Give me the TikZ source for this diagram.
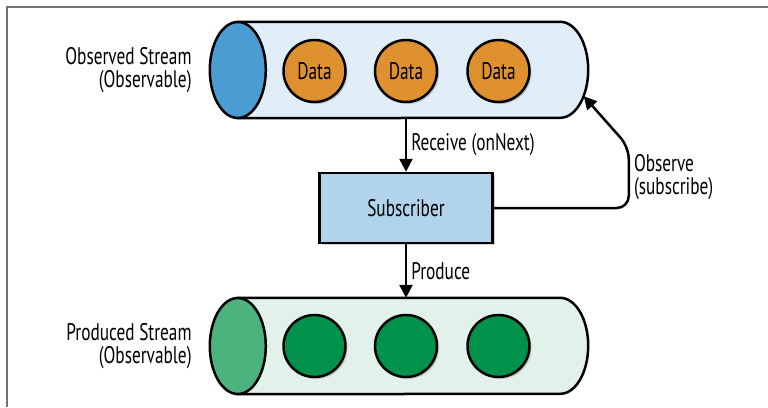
\documentclass[tikz,border=0pt]{standalone}
\usepackage{fontspec}
\setmainfont[FakeStretch=0.72]{PT Sans}
\usetikzlibrary{positioning,shadows,arrows.meta}

\definecolor{obsbody}{HTML}{E1EEF7}
\definecolor{obsend}{HTML}{4B9CD1}
\definecolor{dataorange}{HTML}{E0912F}
\definecolor{subfill}{HTML}{B2D4EA}
\definecolor{prodbody}{HTML}{E2F2EA}
\definecolor{prodend}{HTML}{4DB37E}
\definecolor{prodgreen}{HTML}{00924A}

\begin{document}
\begin{tikzpicture}[x=1pt,y=-1pt,
					>={Triangle[length=13pt,width=13pt]},
					font=\fontsize{24}{23}\selectfont,
					stream/.style={rectangle,inner sep=0pt,minimum width=322pt,minimum height=96pt},
					data node/.style={circle,draw,line width=2.5pt,minimum size=62pt,inner sep=0pt,
						drop shadow={opacity=0.35,shadow xshift=2pt,shadow yshift=-2pt}},
					sub node/.style={rectangle,draw,line width=2.5pt,fill=subfill,
						minimum width=173pt,minimum height=70pt,
						drop shadow={opacity=0.35,shadow xshift=2pt,shadow yshift=-2pt}},
					tube/.style={draw,line width=2.5pt},
					flow/.style={->,line width=2.5pt},
					side label/.style={align=right,inner sep=0pt}]

  \useasboundingbox (0,0) rectangle (768,407);
  \draw[black!55,line width=1.2pt] (7,407) -- (7,7) -- (768,7);

  % observed stream
  \node[stream] (obs) at (399,70) {};
  \path[tube,fill=obsbody] (obs.north west) -- (obs.north east)
    arc[start angle=90,end angle=-90,x radius=28pt,y radius=48pt] -- (obs.south west) -- cycle;
  \path[tube,fill=obsend] (obs.west) ellipse[x radius=28pt,y radius=48pt];
  \coordinate (obstip) at ([shift={(-33:28pt and 48pt)}]obs.east);
  \node[data node,fill=dataorange] (d2) at (406,71) {Data};
  \node[data node,fill=dataorange,left=27pt of d2] (d1) {Data};
  \node[data node,fill=dataorange,right=28pt of d2] (d3) {Data};
  \node[side label,left=46pt of obs.west] (obslabel) {Observed Stream\\(Observable)};

  \node[sub node] (sub) at (406,208) {Subscriber};

  % produced stream
  \node[stream] (prod) at (399,346) {};
  \path[tube,fill=prodbody] (prod.north west) -- (prod.north east)
    arc[start angle=90,end angle=-90,x radius=28pt,y radius=48pt] -- (prod.south west) -- cycle;
  \path[tube,fill=prodend] (prod.west) ellipse[x radius=28pt,y radius=48pt];
  \node[data node,fill=prodgreen] (p2) at (406,346) {};
  \node[data node,fill=prodgreen,left=27pt of p2] (p1) {};
  \node[data node,fill=prodgreen,right=28pt of p2] (p3) {};
  \node[side label,left=46pt of prod.west] (prodlabel) {Produced Stream\\(Observable)};

  \draw[flow] (sub.north |- obs.south) -- node[right=4pt,inner sep=0pt] {Receive (onNext)} (sub.north);
  \draw[flow] (sub.south) -- node[right=4pt,inner sep=0pt] {Produce} (sub.south |- prod.north);
  \draw[flow,rounded corners=12pt] (sub.east) -- ++(135,0)
    -- node[right=4pt,inner sep=0pt,align=left] {Observe\\(subscribe)} ++(0,-61) -- (obstip);
\end{tikzpicture}
\end{document}
